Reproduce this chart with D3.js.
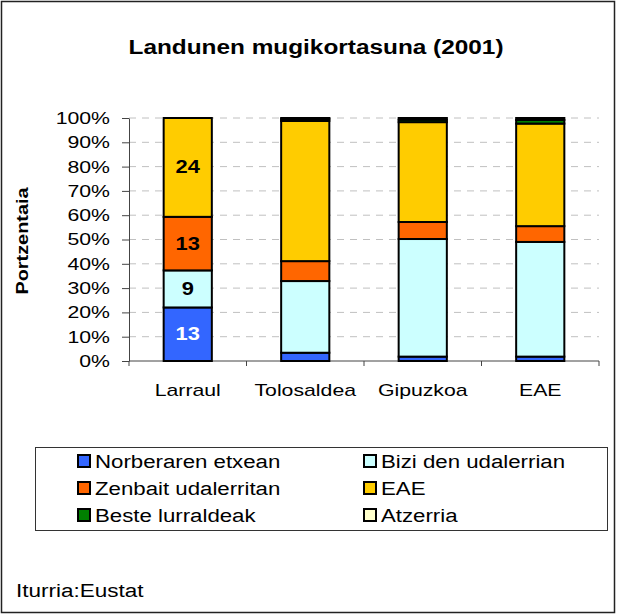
<!DOCTYPE html>
<html lang="eu">
<head>
    <meta charset="UTF-8">
    <title>Landunen mugikortasuna (2001)</title>
    <script src="https://d3js.org/d3.v7.min.js"></script>
    <style>
        body { margin: 0; background: #fff; }
        text { font-family: "Liberation Sans", Arial, sans-serif; fill: #000; }
    </style>
</head>
<body>
<svg id="chart"></svg>
<script>

    var categories = ["Larraul", "Tolosaldea", "Gipuzkoa", "EAE"];
    var seriesNames = ["Norberaren etxean", "Bizi den udalerrian", "Zenbait udalerritan",
        "EAE", "Beste lurraldeak", "Atzerria"];
    var seriesColors = ["#3366ff", "#ccffff", "#ff6600", "#ffcc00", "#008000", "#ffffcc"];

    // Larraul is given in people, the others in percent
    var norberarenEtxean = [13, 3.4, 1.8, 1.8];
    var biziDenUdalerrian = [9, 29.5, 48.4, 47.2];
    var zenbaitUdalerritan = [13, 8.2, 7.0, 6.5];
    var eae = [24, 57.7, 41.1, 42.2];
    var besteLurraldeak = [0, 0.8, 1.0, 1.5];
    var atzerria = [0, 0.4, 0.7, 0.8];
    var labelledCategories = ["Larraul"];

    var yTicks = [0, 0.1, 0.2, 0.3, 0.4, 0.5, 0.6, 0.7, 0.8, 0.9, 1];

    var seriesValues = [norberarenEtxean, biziDenUdalerrian, zenbaitUdalerritan,
        eae, besteLurraldeak, atzerria];

    var W = 617, H = 615;
    var sx = 1.25; // the original text is drawn wider than Arial

    var svg = d3.select("#chart").attr("width", W).attr("height", H);

    // outer frame
    svg.append("rect")
        .attr("x", 1.5).attr("y", 1.5)
        .attr("width", W - 4).attr("height", H - 4)
        .attr("fill", "#fff").attr("stroke", "#222").attr("stroke-width", 1.5);

    function wideText(g, x, y, str, size, anchor, bold) {
        return g.append("text")
            .attr("transform", "translate(" + x + "," + y + ") scale(" + sx + ",1)")
            .attr("text-anchor", anchor)
            .style("font-size", size + "px")
            .style("font-weight", bold ? "bold" : "normal")
            .text(str);
    }

    var plot = {left: 129, right: 599, top: 118, bottom: 361};

    // table of stacked rows
    var rows = categories.map(function (c, i) {
        var row = {category: c};
        seriesNames.forEach(function (s, j) { row[s] = seriesValues[j][i]; });
        return row;
    });

    var stack = d3.stack().keys(seriesNames).offset(d3.stackOffsetExpand);
    var stacked = stack(rows);

    var xScale = d3.scaleBand().domain(categories).range([plot.left, plot.right]);
    var barWidth = xScale.bandwidth() * 0.41;

    var yScale = d3.scaleLinear().domain([0, 1]).range([plot.bottom, plot.top]);

    // dashed grid
    svg.append("g").selectAll("line")
        .data(yTicks.slice(1))
        .enter().append("line")
        .attr("x1", plot.left).attr("x2", plot.right)
        .attr("y1", function (d) { return yScale(d); })
        .attr("y2", function (d) { return yScale(d); })
        .attr("stroke", "#c0c0c0").attr("stroke-width", 1)
        .attr("stroke-dasharray", "7,6");

    // y axis
    var yAxis = d3.axisLeft(yScale)
        .tickValues(yTicks)
        .tickFormat(d3.format(".0%"))
        .tickSizeInner(7).tickSizeOuter(0)
        .tickPadding(8.2);

    var yG = svg.append("g")
        .attr("transform", "translate(" + plot.left + ",0)")
        .call(yAxis);
    yG.select(".domain").attr("stroke", "#444");
    yG.selectAll(".tick line").attr("stroke", "#444");
    yG.selectAll(".tick text")
        .attr("transform", "scale(" + sx + ",1)")
        .style("font-size", "17px")
        .style("font-family", "'Liberation Sans', Arial, sans-serif")
        .attr("fill", "#000");

    // x axis
    var boundaries = categories.map(function (c) { return xScale(c); }).concat([plot.right]);
    var xG = svg.append("g");
    xG.append("line")
        .attr("x1", plot.left).attr("x2", plot.right)
        .attr("y1", plot.bottom).attr("y2", plot.bottom)
        .attr("stroke", "#444");
    xG.selectAll("line.tk")
        .data(boundaries)
        .enter().append("line")
        .attr("class", "tk")
        .attr("x1", function (d) { return d; }).attr("x2", function (d) { return d; })
        .attr("y1", plot.bottom).attr("y2", plot.bottom + 5)
        .attr("stroke", "#444");
    categories.forEach(function (c) {
        wideText(xG, xScale(c) + xScale.bandwidth() / 2, 396, c, 17, "middle", false);
    });

    // bars
    var layers = svg.append("g").selectAll("g")
        .data(stacked)
        .enter().append("g")
        .attr("fill", function (d, i) { return seriesColors[i]; });

    layers.selectAll("rect")
        .data(function (d) { return d; })
        .enter().append("rect")
        .attr("x", function (d) { return xScale(d.data.category) + (xScale.bandwidth() - barWidth) / 2; })
        .attr("width", barWidth)
        .attr("y", function (d) { return yScale(d[1]); })
        .attr("height", function (d) { return yScale(d[0]) - yScale(d[1]); })
        .attr("stroke", "#000").attr("stroke-width", 2);

    // value labels
    var labels = svg.append("g");
    stacked.forEach(function (layer, j) {
        layer.forEach(function (d) {
            var v = d.data[layer.key];
            if (labelledCategories.indexOf(d.data.category) < 0 || v === 0) return;
            wideText(labels, xScale(d.data.category) + xScale.bandwidth() / 2,
                (yScale(d[0]) + yScale(d[1])) / 2 + 6, v, 17.5, "middle", true)
                .style("fill", j === 0 ? "#fff" : "#000");
        });
    });

    // title and axis title
    wideText(svg, 316, 54, "Landunen mugikortasuna (2001)", 19.5, "middle", true);
    svg.append("text")
        .attr("transform", "translate(28,241) rotate(-90) scale(1.17,1)")
        .attr("text-anchor", "middle")
        .style("font-size", "17px").style("font-weight", "bold")
        .text("Portzentaia");

    // legend
    var legend = svg.append("g");
    legend.append("rect")
        .attr("x", 35.5).attr("y", 447.5)
        .attr("width", 572).attr("height", 83)
        .attr("fill", "#fff").attr("stroke", "#333").attr("stroke-width", 1);

    var legendCols = [78, 364];
    seriesNames.forEach(function (s, i) {
        var cx = legendCols[i % 2];
        var cy = 455 + Math.floor(i / 2) * 27;
        legend.append("rect")
            .attr("x", cx).attr("y", cy)
            .attr("width", 12).attr("height", 12)
            .attr("fill", seriesColors[i])
            .attr("stroke", "#000").attr("stroke-width", 2);
        wideText(legend, cx + 17, cy + 13, s, 17.8, "start", false);
    });

    wideText(svg, 16, 597, "Iturria:Eustat", 18, "start", false);

</script>
</body>
</html>
